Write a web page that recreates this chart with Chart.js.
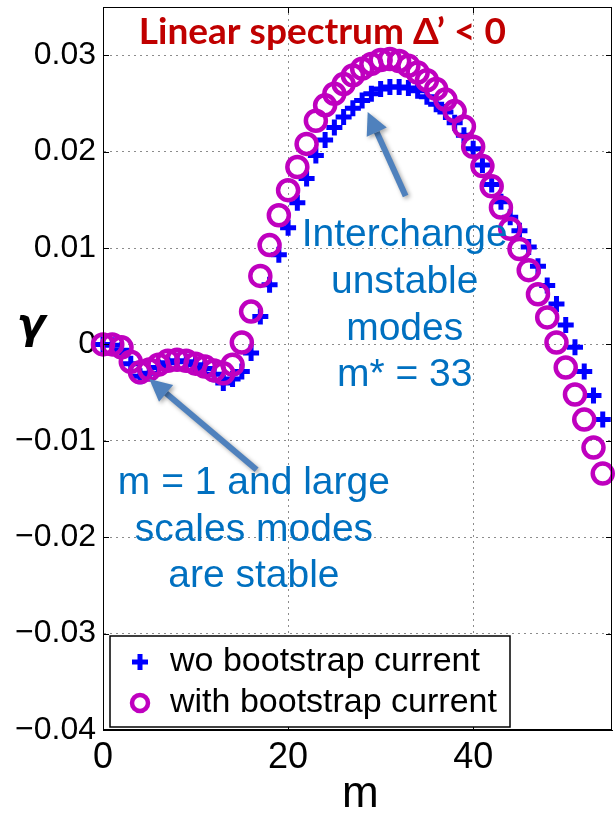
<!DOCTYPE html>
<html lang="en">
  <head>
    <meta charset="UTF-8">
    <script src="https://cdn.jsdelivr.net/npm/chart.js"></script>
    <style>
      html, body { margin: 0; padding: 0; background: #fff; }
      #gammaChart { display: block; }
    </style>
  </head>
  <body>
    <canvas id="gammaChart" width="616" height="813"></canvas>

    <script>
      // poloidal mode number m
      const modeNumbers = [0, 1, 2, 3, 4, 5, 6, 7, 8, 9, 10, 11, 12, 13, 14, 15, 16, 17, 18, 19,
        20, 21, 22, 23, 24, 25, 26, 27, 28, 29, 30, 31, 32, 33, 34, 35, 36, 37, 38, 39,
        40, 41, 42, 43, 44, 45, 46, 47, 48, 49, 50, 51, 52, 53, 54];

      // growth rate gamma, without bootstrap current (blue +)
      const gammaWithout = [0, -0.0001, -0.0006, -0.0020, -0.0033, -0.0030, -0.0024, -0.0019, -0.0017, -0.0018,
        -0.0021, -0.0025, -0.0031, -0.0040, -0.0036, -0.0028, -0.0009, 0.0029, 0.0062, 0.0093,
        0.0121, 0.0147, 0.0172, 0.0196, 0.0212, 0.0225, 0.0236, 0.0245, 0.0253, 0.0260,
        0.0265, 0.0267, 0.0267, 0.0266, 0.0263, 0.0257, 0.0249, 0.0241, 0.0230, 0.0217,
        0.0203, 0.0186, 0.0166, 0.0148, 0.0132, 0.0118, 0.0101, 0.0081, 0.0061, 0.0042,
        0.0020, -0.0003, -0.0028, -0.0053, -0.0078];

      // growth rate gamma, with bootstrap current (magenta o)
      const gammaWith = [0, 0, -0.0003, -0.0018, -0.0029, -0.0026, -0.0021, -0.0017, -0.0016, -0.0017,
        -0.0020, -0.0023, -0.0027, -0.0030, -0.0021, 0.0002, 0.0034, 0.0071, 0.0103, 0.0134,
        0.0160, 0.0184, 0.0208, 0.0232, 0.0248, 0.0260, 0.0270, 0.0279, 0.0286, 0.0291,
        0.0295, 0.0296, 0.0294, 0.0289, 0.0282, 0.0274, 0.0265, 0.0254, 0.0242, 0.0226,
        0.0205, 0.0185, 0.0164, 0.0142, 0.0120, 0.0099, 0.0077, 0.0052, 0.0028, 0.0002,
        -0.0024, -0.0052, -0.0078, -0.0107, -0.0134];

      const xTickValues = [0, 20, 40];
      const yTickValues = [-0.04, -0.03, -0.02, -0.01, 0, 0.01, 0.02, 0.03];
      const seriesLabels = ['wo bootstrap current', 'with bootstrap current'];

      const titleText = 'Linear spectrum \u0394\u2019 < 0';
      const upperNote = ['Interchange', 'unstable', 'modes', 'm* = 33'];
      const lowerNote = ['m = 1 and large', 'scales modes', 'are stable'];
      // arrows in data units: [m start, gamma start, m tip, gamma tip]
      const upperArrow = [32.7, 0.0154, 28.6, 0.0241];
      const lowerArrow = [16.6, -0.0130, 5.0, -0.0036];

      const fmtTick = v => {
        if (Math.abs(v) < 1e-9) return '0';
        const s = Math.abs(v).toFixed(2);
        return v < 0 ? '\u2212' + s : s;
      };

      function drawArrow(ctx, x0, y0, x1, y1) {
        const ang = Math.atan2(y1 - y0, x1 - x0);
        const head = 22, half = 11;
        const bx = x1 - head * Math.cos(ang), by = y1 - head * Math.sin(ang);
        ctx.save();
        ctx.shadowColor = 'rgba(0,0,0,0.35)';
        ctx.shadowBlur = 4;
        ctx.shadowOffsetX = 2;
        ctx.shadowOffsetY = 2;
        ctx.strokeStyle = '#4f81bd';
        ctx.fillStyle = '#4f81bd';
        ctx.lineWidth = 6;
        ctx.beginPath();
        ctx.moveTo(x0, y0);
        ctx.lineTo(bx, by);
        ctx.stroke();
        ctx.beginPath();
        ctx.moveTo(x1, y1);
        ctx.lineTo(bx + half * Math.sin(ang), by - half * Math.cos(ang));
        ctx.lineTo(bx - half * Math.sin(ang), by + half * Math.cos(ang));
        ctx.closePath();
        ctx.fill();
        ctx.restore();
      }

      const overlay = {
        id: 'overlay',
        afterDraw(chart) {
          const { ctx, chartArea: a, scales: { x, y } } = chart;
          ctx.save();

          // frame
          ctx.strokeStyle = '#000';
          ctx.lineWidth = 1;
          ctx.strokeRect(a.left + 0.5, a.top + 0.5, a.right - a.left - 1, a.bottom - a.top - 1);

          // inward tick marks
          ctx.beginPath();
          yTickValues.forEach(v => {
            const py = Math.round(y.getPixelForValue(v)) + 0.5;
            ctx.moveTo(a.left, py); ctx.lineTo(a.left + 6, py);
            ctx.moveTo(a.right, py); ctx.lineTo(a.right - 6, py);
          });
          xTickValues.forEach(v => {
            const px = Math.round(x.getPixelForValue(v)) + 0.5;
            ctx.moveTo(px, a.bottom); ctx.lineTo(px, a.bottom - 6);
            ctx.moveTo(px, a.top); ctx.lineTo(px, a.top + 6);
          });
          ctx.stroke();

          // title
          ctx.fillStyle = '#c00000';
          ctx.font = 'bold 37px Lato';
          ctx.textAlign = 'center';
          ctx.textBaseline = 'middle';
          ctx.fillText(titleText, x.getPixelForValue(23.7), y.getPixelForValue(0.0324));

          // notes
          ctx.fillStyle = '#0070c0';
          ctx.font = '39px "Liberation Sans"';
          upperNote.forEach((t, i) => {
            ctx.fillText(t, x.getPixelForValue(32.6), y.getPixelForValue(0.0113 - i * 0.00485));
          });
          lowerNote.forEach((t, i) => {
            ctx.fillText(t, x.getPixelForValue(16.3), y.getPixelForValue(-0.0144 - i * 0.00485));
          });

          // arrows
          [upperArrow, lowerArrow].forEach(ar => {
            drawArrow(ctx, x.getPixelForValue(ar[0]), y.getPixelForValue(ar[1]),
              x.getPixelForValue(ar[2]), y.getPixelForValue(ar[3]));
          });

          // legend
          const lx = a.left + 7, ly = a.bottom - 94, lw = 400, lh = 91;
          ctx.fillStyle = '#fff';
          ctx.fillRect(lx, ly, lw, lh);
          ctx.strokeStyle = '#000';
          ctx.lineWidth = 1.5;
          ctx.strokeRect(lx, ly, lw, lh);
          const r1 = ly + 26, r2 = ly + 67, mx = lx + 30;
          ctx.strokeStyle = '#0000ff';
          ctx.lineWidth = 5;
          ctx.beginPath();
          ctx.moveTo(mx - 8, r1); ctx.lineTo(mx + 8, r1);
          ctx.moveTo(mx, r1 - 8); ctx.lineTo(mx, r1 + 8);
          ctx.stroke();
          ctx.strokeStyle = '#bf00bf';
          ctx.lineWidth = 4.5;
          ctx.beginPath();
          ctx.arc(mx, r2, 8, 0, Math.PI * 2);
          ctx.stroke();
          ctx.fillStyle = '#000';
          ctx.font = '34px "Liberation Sans"';
          ctx.textAlign = 'left';
          ctx.fillText(seriesLabels[0], lx + 60, r1);
          ctx.fillText(seriesLabels[1], lx + 60, r2);

          // axis titles
          ctx.textAlign = 'center';
          ctx.font = '44px "Liberation Sans"';
          ctx.fillText('m', x.getPixelForValue(27.8), a.bottom + 65);
          ctx.font = 'bold italic 42px "DejaVu Sans"';
          ctx.fillText('\u03b3', a.left - 72, y.getPixelForValue(0.0018));

          ctx.restore();
        }
      };

      const ctx = document.getElementById('gammaChart').getContext('2d');

      new Chart(ctx, {
        type: 'scatter',
        data: {
          datasets: [
            {
              label: seriesLabels[0],
              data: modeNumbers.map((m, i) => ({ x: m, y: gammaWithout[i] })),
              pointStyle: 'cross',
              pointRadius: 8,
              pointBorderWidth: 5,
              borderColor: '#0000ff',
              backgroundColor: '#0000ff',
              showLine: false,
              clip: false,
              order: 2
            },
            {
              label: seriesLabels[1],
              data: modeNumbers.map((m, i) => ({ x: m, y: gammaWith[i] })),
              pointStyle: 'circle',
              pointRadius: 10,
              pointBorderWidth: 4.5,
              borderColor: '#bf00bf',
              backgroundColor: 'rgba(0,0,0,0)',
              showLine: false,
              clip: false,
              order: 1
            }
          ]
        },
        options: {
          responsive: false,
          animation: false,
          layout: { autoPadding: false, padding: { left: 0, right: 4, top: 7, bottom: 0 } },
          plugins: {
            legend: { display: false },
            tooltip: { enabled: false }
          },
          scales: {
            x: {
              type: 'linear',
              min: 0,
              max: 55,
              afterBuildTicks: s => { s.ticks = xTickValues.map(v => ({ value: v })); },
              afterFit: s => { s.height = 83; s.paddingLeft = 0; s.paddingRight = 0; },
              grid: { color: '#8c8c8c', lineWidth: 1, drawTicks: false },
              border: { color: '#000', width: 1, dash: [2, 4] },
              ticks: {
                padding: 6,
                color: '#000',
                font: { family: 'Liberation Sans', size: 36 },
                callback: v => String(v)
              }
            },
            y: {
              type: 'linear',
              min: -0.04,
              max: 0.035,
              afterBuildTicks: s => { s.ticks = yTickValues.map(v => ({ value: v })); },
              afterFit: s => { s.width = 103; s.paddingTop = 0; s.paddingBottom = 0; },
              grid: { color: '#8c8c8c', lineWidth: 1, drawTicks: false },
              border: { color: '#000', width: 1, dash: [2, 4] },
              ticks: {
                padding: 7,
                color: '#000',
                font: { family: 'Liberation Sans', size: 32 },
                callback: fmtTick
              }
            }
          }
        },
        plugins: [overlay]
      });
    </script>
  </body>
</html>
